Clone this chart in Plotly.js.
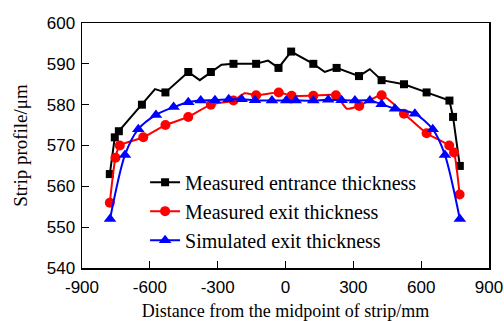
<!DOCTYPE html>
<html>
<head>
<meta charset="utf-8">
<script src="https://cdn.plot.ly/plotly-3.0.1.min.js"></script>
<style>html,body{margin:0;padding:0;background:#fff;}#chart{width:504px;height:321px;}</style>
</head>
<body>
<div id="chart"></div>
<script>
// Measured entrance thickness: marker points
const entranceX = [-777, -755, -737, -635, -531, -430, -330, -230, -130, -31, 25, 123, 226, 325, 425, 524, 624, 725, 741, 771];
const entranceY = [563, 572, 573.5, 580, 583, 588, 588, 590, 590, 589, 593, 590, 589, 587, 586, 585, 583, 581, 577, 565];
// Entrance line including the unmarked intermediate points
const entranceLineX = [-777, -755, -737, -635, -577, -531, -430, -379, -330, -283, -230, -130, -77, -31, 25, 123, 174, 226, 325, 373, 425, 524, 624, 725, 741, 771];
const entranceLineY = [563, 572, 573.5, 580, 583.8, 583, 588, 586, 588, 589.8, 590, 590, 590.8, 589, 593, 590, 588, 589, 587, 588.7, 586, 585, 583, 581, 577, 565];

// Measured exit thickness: marker points
const exitX = [-777, -752, -733, -629, -531, -430, -330, -230, -130, -30, 27, 123, 223, 326, 425, 524, 624, 724, 745, 770];
const exitY = [556, 567, 570, 572, 575, 577, 580, 581, 582.3, 583, 582.2, 582.2, 582.3, 579.7, 582.3, 577.8, 573, 570, 568.3, 558];
// Exit line including the unmarked intermediate points
const exitLineX = [-777, -752, -733, -629, -531, -430, -330, -230, -180, -130, -30, 27, 123, 223, 272, 326, 425, 524, 624, 724, 745, 770];
const exitLineY = [556, 567, 570, 572, 575, 577, 580, 581, 582.8, 582.3, 583, 582.2, 582.2, 582.3, 579, 579.7, 582.3, 577.8, 573, 570, 568.3, 558];

// Simulated exit thickness
const simX = [-776, -710, -651, -573, -495, -430, -375, -312, -251, -194, -135, -60, 3, 45, 123, 189, 248, 307, 373, 425, 484, 572, 651, 705, 771];
const simY = [552, 567.7, 574, 577.5, 579.4, 580.6, 581, 581.1, 581.3, 581.3, 581.1, 581, 581, 581, 581, 581.2, 581.1, 581, 581, 580.1, 579, 577.8, 574, 567.7, 552];

const names = ["Measured entrance thickness", "Measured exit thickness", "Simulated exit thickness"];
const xTicks = [-900, -600, -300, 0, 300, 600, 900];
const yTicks = [540, 550, 560, 570, 580, 590, 600];

const cBlack = "#000000", cRed = "#ff0000", cBlue = "#0000ff";

const traces = [
  {x: entranceLineX, y: entranceLineY, mode: "lines", line: {color: cBlack, width: 2}, showlegend: false, hoverinfo: "skip"},
  {x: entranceX, y: entranceY, mode: "markers", marker: {symbol: "square", size: 8, color: cBlack}, showlegend: false},
  {x: exitLineX, y: exitLineY, mode: "lines", line: {color: cRed, width: 2, shape: "spline", smoothing: 0.6}, showlegend: false, hoverinfo: "skip"},
  {x: exitX, y: exitY, mode: "markers", marker: {symbol: "circle", size: 10, color: cRed}, showlegend: false},
  {x: simX, y: simY, mode: "lines+markers", line: {color: cBlue, width: 2, shape: "spline", smoothing: 0.8}, marker: {symbol: "triangle-up", size: 11, color: cBlue}, showlegend: false},
  {x: [null], y: [null], name: names[0], mode: "lines+markers", line: {color: cBlack, width: 2}, marker: {symbol: "square", size: 8, color: cBlack}},
  {x: [null], y: [null], name: names[1], mode: "lines+markers", line: {color: cRed, width: 2}, marker: {symbol: "circle", size: 10, color: cRed}},
  {x: [null], y: [null], name: names[2], mode: "lines+markers", line: {color: cBlue, width: 2}, marker: {symbol: "triangle-up", size: 11, color: cBlue}}
];

const layout = {
  width: 504, height: 321,
  margin: {l: 82, r: 15, t: 23, b: 53, pad: 0},
  paper_bgcolor: "#ffffff", plot_bgcolor: "#ffffff",
  font: {family: "Liberation Sans, Arial, sans-serif", color: "#000"},
  xaxis: {
    range: [-900, 900], tickvals: xTicks, ticktext: xTicks.map(String),
    ticks: "inside", ticklen: 7, tickwidth: 1.2, tickcolor: "#000",
    showline: true, linewidth: 1.5, linecolor: "#000", mirror: true,
    showgrid: false, zeroline: false,
    tickfont: {size: 17, family: "Liberation Sans, Arial, sans-serif"},
    ticklabelstandoff: 3,
    title: {text: "Distance from the midpoint of strip/mm", font: {size: 18, family: "Liberation Serif, Times New Roman, serif"}, standoff: 10}
  },
  yaxis: {
    range: [540, 600], tickvals: yTicks, ticktext: yTicks.map(String),
    ticks: "inside", ticklen: 7, tickwidth: 1.2, tickcolor: "#000",
    showline: true, linewidth: 1.5, linecolor: "#000", mirror: true,
    showgrid: false, zeroline: false,
    tickfont: {size: 17, family: "Liberation Sans, Arial, sans-serif"},
    ticklabelstandoff: 2,
    title: {text: "Strip profile/μm", font: {size: 19, family: "Liberation Serif, Times New Roman, serif"}, standoff: 14}
  },
  legend: {
    x: 0.155, y: 0.43, xanchor: "left", yanchor: "top",
    bgcolor: "rgba(0,0,0,0)", borderwidth: 0,
    font: {size: 20, family: "Liberation Serif, Times New Roman, serif"},
    tracegroupgap: 0
  },
  showlegend: true
};

Plotly.newPlot("chart", traces, layout, {staticPlot: true, displayModeBar: false});
</script>
</body>
</html>
